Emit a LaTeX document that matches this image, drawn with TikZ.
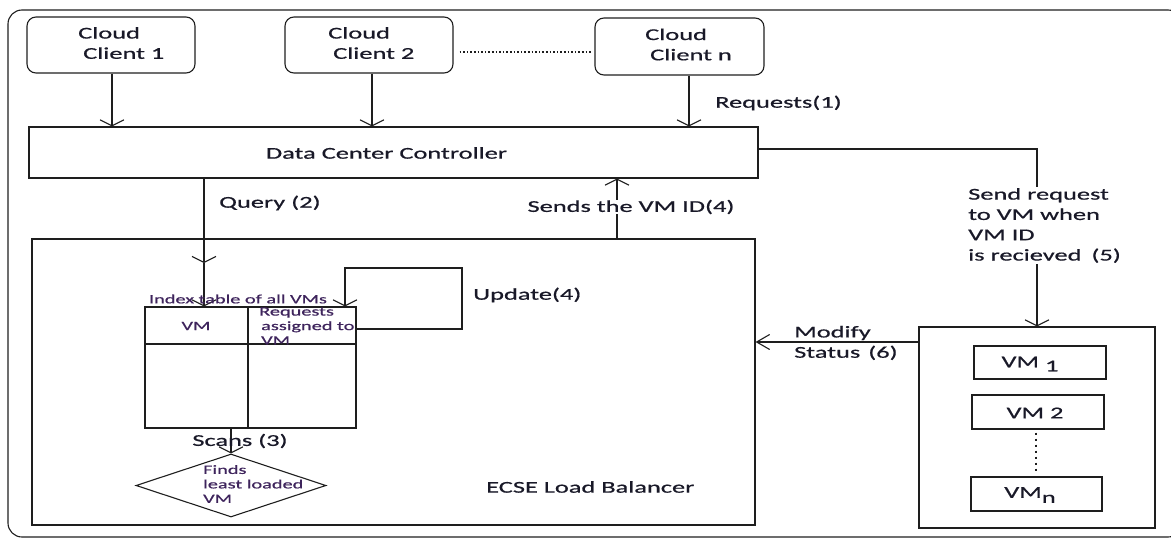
\documentclass[tikz,border=0pt]{standalone}
\usepackage{fontspec}
\setmainfont{Carlito}[FakeStretch=1.6, FakeBold=0.7]
\usetikzlibrary{arrows.meta,shapes.geometric}
\definecolor{lncol}{RGB}{30,30,30}
\definecolor{txcol}{RGB}{25,25,40}
\definecolor{smcol}{RGB}{62,36,92}
\begin{document}
\begin{tikzpicture}[x=1pt,y=1pt,
  ln/.style={draw=lncol,line width=1.1pt},
  box/.style={ln, rectangle, inner sep=0pt},
  client/.style={box, rounded corners=9pt},
  txt/.style={text=txcol, font=\fontsize{16.5}{20.3}\selectfont, inner sep=1pt},
  smalltxt/.style={text=smcol, font=\fontsize{12.7}{14.5}\selectfont, inner sep=1pt},
  varr/.style={ln, -{Straight Barb[length=6pt,width=24pt]}},
  harr/.style={ln, -{Straight Barb[length=13pt,width=15pt]}},
  dotline/.style={draw=lncol, line width=1.8pt, dash pattern=on 1.6pt off 2pt},
]
\useasboundingbox (0,0) rectangle (1171,-538);
\clip (0,0) rectangle (1171,-538);

% outer frame
\node[box, rounded corners=14pt, minimum width=1174pt, minimum height=527pt] (frame) at (595,-273.5) {};

% clients
\node[client, minimum width=168pt, minimum height=56pt] (c1) at (111,-45) {};
\node[txt, anchor=west, align=left] (c1t) at (77,-43) {Cloud\\\hspace*{5pt}Client 1};
\node[client, minimum width=168pt, minimum height=56pt] (c2) at (369,-45) {};
\node[txt, anchor=west, align=left] (c2t) at (327,-43) {Cloud\\\hspace*{5pt}Client 2};
\node[client, minimum width=169pt, minimum height=57pt] (cn) at (679.5,-46.5) {};
\node[txt, anchor=west, align=left] (cnt) at (644,-44.5) {Cloud\\\hspace*{5pt}Client n};
\draw[dotline] ([shift={(6pt,-7pt)}]c2.east) -- ([shift={(-3pt,-5.5pt)}]cn.west);

% data center controller
\node[box, minimum width=729pt, minimum height=51pt] (dcc) at (393.5,-152.5) {};
\node[txt] (dcct) at (386.5,-153) {Data Center Controller};

\coordinate (a1) at (112,0);
\coordinate (a2) at (372,0);
\coordinate (an) at (689,0);
\draw[varr] (c1.south -| a1) -- (dcc.north -| a1);
\draw[varr] (c2.south -| a2) -- (dcc.north -| a2);
\draw[varr] (cn.south -| an) -- (dcc.north -| an);
\node[txt, anchor=west] (req) at (714,-103) {Requests(1)};

% load balancer
\node[box, minimum width=723pt, minimum height=286pt] (lb) at (393.5,-382) {};
\node[txt, anchor=west] (lbt) at (485,-487) {ECSE Load Balancer};

% index table
\node[box, minimum width=211pt, minimum height=121pt] (tbl) at (250.5,-367.5) {};
\coordinate (hdr) at (0,-344);
\coordinate (dv) at (248,0);
\draw[ln] (tbl.west |- hdr) -- (tbl.east |- hdr);
\draw[ln] (tbl.north -| dv) -- (tbl.south -| dv);
\node[smalltxt] (vmh) at (196,-326) {VM};
\node[smalltxt, anchor=west, align=left] (rq) at (258,-326) {Requests\\\hspace*{2pt}assigned to\\\hspace*{2pt}VM};

% query
\coordinate (q) at (204,-263);
\draw[varr] (dcc.south -| q) -- (q);
\draw[varr] (q) -- (tbl.north -| q);
\node[txt, anchor=west] (qt) at (218,-203) {Query (2)};
\node[smalltxt] (idx) at (238,-299) {Index table of all VMs};

% update loop
\coordinate (ua) at (462,-329);
\coordinate (ub) at (345,-268);
\draw[varr] (tbl.east |- ua) -- (ua) |- (ub) -- (tbl.north -| ub);
\node[txt, anchor=west] (updt) at (472,-295) {Update(4)};

% scans and diamond
\node[diamond, ln, minimum width=190pt, minimum height=63pt, inner sep=0pt] (dia) at (231,-485.5) {};
\draw[varr] (dia.north |- tbl.south) -- (dia.north);
\node[txt] (sct) at (240,-441) {Scans (3)};
\node[smalltxt, anchor=west, align=left] (diat) at (202,-484) {Finds\\least loaded\\VM};

% sends VM ID
\coordinate (s) at (617,0);
\draw[varr] (lb.north -| s) -- (dcc.south -| s);
\node[txt, fill=white, inner sep=0pt] (st) at (631,-207) {Sends the VM ID(4)};

% VM box
\node[box, minimum width=236pt, minimum height=201pt] (vms) at (1037,-427.5) {};
\node[box, minimum width=132pt, minimum height=33pt] (vm1) at (1040,-362.5) {};
\node[txt] (vm1t) at (1030,-364) {VM\hspace{6pt}\raisebox{-4pt}{1}};
\node[box, minimum width=132pt, minimum height=34pt] (vm2) at (1038,-412) {};
\node[txt] (vm2t) at (1035,-413) {VM 2};
\node[box, minimum width=131pt, minimum height=34pt] (vmn) at (1036.5,-494) {};
\node[txt] (vmnt) at (1030,-495) {VM\raisebox{-5pt}{n}};
\coordinate (dt) at (1036,0);
\draw[draw=lncol, line width=2pt, dash pattern=on 2pt off 4pt, shorten <=3pt, shorten >=3pt] (vm2.south -| dt) -- (vmn.north -| dt);

% send request to VM
\draw[varr] ([yshift=3.5pt]dcc.east) -| (vms.north);
\node[txt, fill=white, anchor=west, align=left] (srt) at (967,-225.5) {Send request\\to VM when\\VM ID\\is recieved\hspace{10pt}(5)};

% modify status
\coordinate (mody) at (0,-342);
\draw[harr] (vms.west |- mody) -- (lb.east |- mody);
\node[txt, anchor=west, align=left] (modt) at (793,-343) {Modify\\Status\hspace{8pt}(6)};
\end{tikzpicture}
\end{document}
